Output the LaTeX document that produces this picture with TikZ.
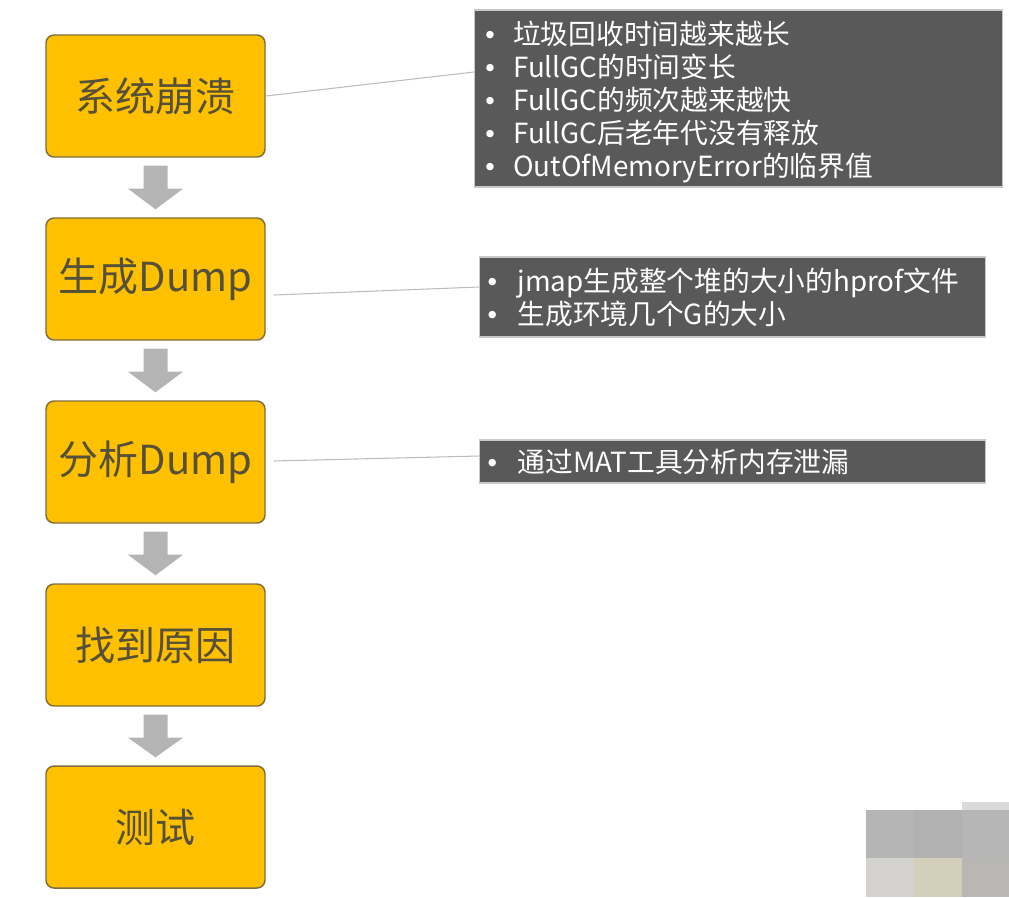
\documentclass[tikz,border=0pt]{standalone}
\usepackage{fontspec}
\setmainfont{Noto Sans CJK SC}
\newfontfamily\dejavu{DejaVu Sans}
\usetikzlibrary{calc}
\definecolor{boxfill}{HTML}{FFC000}
\definecolor{boxdraw}{HTML}{7F6E3C}
\definecolor{boxtext}{HTML}{55503A}
\definecolor{notefill}{HTML}{595959}
\definecolor{notedraw}{HTML}{C8C8C8}
\definecolor{arrowgray}{HTML}{B4B4B4}
\definecolor{linkgray}{HTML}{BDBDBD}
\tikzset{
  stepbox/.style={draw=boxdraw, line width=1.1pt, fill=boxfill, rounded corners=6pt,
    minimum width=164.25pt, minimum height=91.5pt, inner sep=0pt,
    text=boxtext, font=\fontsize{30}{34}\selectfont},
  notebox/.style={draw=notedraw, line width=0.8pt, fill=notefill, text=white,
    align=left, inner ysep=0pt, anchor=west,
    font=\fontsize{20.8}{24.75}\selectfont},
  linkline/.style={draw=linkgray, line width=0.8pt},
}
\newcommand\blt[1]{\makebox[23pt][l]{{\dejavu\fontsize{19}{19}\selectfont •}}#1}
\newcommand\bltb[1]{\makebox[24.5pt][l]{{\dejavu\fontsize{19}{19}\selectfont •}}#1}
\begin{document}
\begin{tikzpicture}[x=0.75pt, y=-0.75pt]
\useasboundingbox (0,0) rectangle (1009,897);
% orange steps
\node[stepbox] (b1) at (155.5,96) {系统崩溃};
\node[stepbox] (b2) at (155.5,279) {生成Dump};
\node[stepbox] (b3) at (155.5,462) {分析Dump};
\node[stepbox] (b4) at (155.5,645) {找到原因};
\node[stepbox] (b5) at (155.5,827) {测试};
% arrows between steps
\foreach \a/\b in {b1/b2,b2/b3,b3/b4,b4/b5}{
  \fill[arrowgray] ($(\a.south)+(-12,8)$) -- ($(\a.south)+(12,8)$) -- ($(\a.south)+(12,31)$)
    -- ($(\a.south)+(27.5,31)$) -- ($(\b.north)+(0,-8)$) -- ($(\a.south)+(-27.5,31)$)
    -- ($(\a.south)+(-12,31)$) -- cycle;
}
% note boxes
\node[notebox, minimum width=396pt, minimum height=132.75pt, inner xsep=6pt, text width=384pt] (n1) at (474,98.5) {%
\rule{0pt}{22.5pt}\blt{垃圾回收时间越来越长}\\
\blt{FullGC的时间变长}\\
\blt{FullGC的频次越来越快}\\
\blt{FullGC后老年代没有释放}\\
\blt{OutOfMemoryError的临界值}};
\node[notebox, minimum width=379.5pt, minimum height=60pt, inner xsep=4pt, text width=371.5pt] (n2) at (479,297) {%
\rule{0pt}{19pt}\bltb{jmap生成整个堆的大小的hprof文件}\\
\bltb{生成环境几个G的大小}};
\node[notebox, minimum width=379.5pt, minimum height=32.25pt, inner xsep=4pt, text width=371.5pt] (n3) at (479,461.5) {%
\bltb{通过MAT工具分析内存泄漏}};
% connectors
\coordinate (c1) at ($(n1.west)+(0,-26.5)$);
\coordinate (c2) at ($(n2.west)+(0,-10)$);
\coordinate (c3) at ($(n3.west)+(0,-5.5)$);
\draw[linkline] (b1.east) -- (c1);
\draw[linkline] ($(b2.east)+(8,16)$) -- (c2);
\draw[linkline] ($(b3.east)+(8,-1)$) -- (c3);
% mosaic (blurred corner)
\fill[fill={rgb,255:red,218;green,218;blue,218}] (962,802) rectangle (1009,810);
\fill[fill={rgb,255:red,181;green,181;blue,181}] (866,810) rectangle (914,858);
\fill[fill={rgb,255:red,177;green,177;blue,177}] (914,810) rectangle (962,858);
\fill[fill={rgb,255:red,182;green,182;blue,182}] (962,810) rectangle (1009,858);
\fill[fill={rgb,255:red,211;green,210;blue,206}] (866,858) rectangle (914,897);
\fill[fill={rgb,255:red,212;green,207;blue,187}] (914,858) rectangle (962,897);
\fill[fill={rgb,255:red,184;green,183;blue,179}] (962,858) rectangle (1009,897);
\end{tikzpicture}
\end{document}
